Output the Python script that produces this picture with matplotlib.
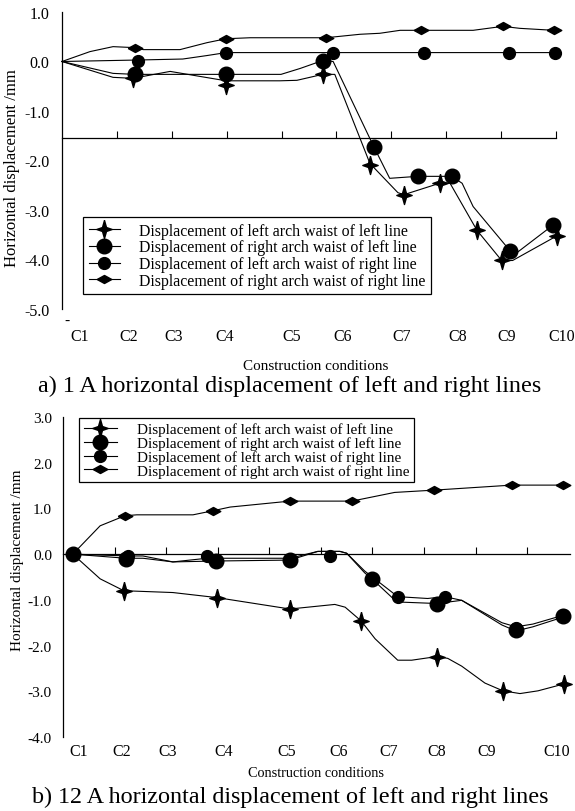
import matplotlib
matplotlib.use("Agg")
import matplotlib.pyplot as plt
from matplotlib.lines import Line2D
from matplotlib.transforms import blended_transform_factory

plt.rcParams["font.family"] = ["Liberation Serif", "DejaVu Serif"]
plt.rcParams["axes.unicode_minus"] = False

W, H = 575, 812

conditions = ["C1", "C2", "C3", "C4", "C5", "C6", "C7", "C8", "C9", "C10"]
legend_labels = [
    "Displacement of left arch waist of left line",
    "Displacement of right arch waist of left line",
    "Displacement of left arch waist of right line",
    "Displacement of right arch waist of right line",
]

# ---- a) 1 A : curves and marker points (x in condition-axis units)
a_label_x = [0.33, 1.22, 2.04, 2.97, 4.19, 5.12, 6.19, 7.21, 8.11, 9.11]

a_left_left_x = [0, 0.93, 1.29, 1.97, 2.99, 3.97, 4.28, 4.75, 4.97, 5.61, 6.12, 6.23,
                 6.88, 7.07, 7.56, 8.01, 8.21, 9.02]
a_left_left_y = [0, -0.32, -0.34, -0.20, -0.39, -0.39, -0.38, -0.26, -0.26, -2.06, -2.65,
                 -2.69, -2.46, -2.46, -3.41, -4.02, -4.02, -3.52]
a_left_left_mx = [1.29, 2.99, 4.75, 5.61, 6.23, 6.88, 7.56, 8.01, 9.02]
a_left_left_my = [-0.34, -0.48, -0.26, -2.10, -2.69, -2.46, -3.41, -4.02, -3.52]

a_right_left_x = [0, 0.93, 1.33, 2.99, 3.99, 4.34, 4.75, 4.94, 5.68, 5.97, 6.48, 7.10,
                  7.29, 7.49, 8.16, 8.29, 8.94]
a_right_left_y = [0, -0.24, -0.26, -0.26, -0.26, -0.14, 0.02, 0.0, -1.72, -2.36, -2.32,
                  -2.32, -2.46, -2.93, -3.82, -3.86, -3.31]
a_right_left_mx = [1.33, 2.99, 4.75, 5.68, 6.48, 7.10, 8.16, 8.94]
a_right_left_my = [-0.26, -0.26, 0.02, -1.72, -2.32, -2.32, -3.82, -3.31]

a_left_right_x = [0, 1.38, 2.20, 2.64, 2.99, 3.42, 8.98]
a_left_right_y = [0, 0.03, 0.05, 0.12, 0.18, 0.18, 0.18]
a_left_right_mx = [1.38, 2.99, 4.94, 6.59, 8.14, 8.98]
a_left_right_my = [0.02, 0.18, 0.18, 0.18, 0.18, 0.18]

a_right_right_x = [0, 0.51, 0.93, 1.33, 1.48, 2.15, 2.64, 2.99, 3.43, 4.81, 5.43, 5.79,
                   6.16, 6.54, 7.49, 8.03, 8.34, 8.96]
a_right_right_y = [0, 0.20, 0.30, 0.28, 0.24, 0.24, 0.38, 0.46, 0.48, 0.48, 0.55, 0.57,
                   0.63, 0.63, 0.63, 0.71, 0.67, 0.63]
a_right_right_mx = [1.33, 2.99, 4.81, 6.54, 8.03, 8.96]
a_right_right_my = [0.28, 0.46, 0.48, 0.63, 0.71, 0.63]

# ---- b) 12 A
b_label_x = [0.31, 1.14, 2.03, 3.12, 4.34, 5.35, 6.32, 7.25, 8.22, 9.57]

b_left_left_x = [0.19, 0.72, 1.18, 2.13, 2.98, 4.40, 5.27, 5.47, 5.78, 6.05, 6.49, 6.76,
                 7.25, 7.46, 7.73, 8.18, 8.53, 8.86, 9.21, 9.71]
b_left_left_y = [0, -0.54, -0.80, -0.84, -0.95, -1.20, -1.10, -1.16, -1.46, -1.85, -2.32,
                 -2.32, -2.24, -2.28, -2.45, -2.82, -2.99, -3.05, -2.99, -2.84]
b_left_left_mx = [1.18, 2.98, 4.40, 5.78, 7.25, 8.53, 9.71]
b_left_left_my = [-0.80, -0.95, -1.20, -1.46, -2.24, -2.99, -2.84]

b_right_left_x = [0.19, 1.22, 1.55, 2.13, 2.97, 4.40, 4.94, 5.37, 5.50, 5.85, 5.99, 6.38,
                  6.57, 7.25, 7.73, 8.51, 8.78, 9.11, 9.69]
b_right_left_y = [0, -0.09, -0.09, -0.17, -0.15, -0.13, 0.06, 0.06, 0.02, -0.41, -0.54,
                  -0.95, -1.05, -1.08, -1.01, -1.55, -1.68, -1.59, -1.38]
b_right_left_mx = [0.19, 1.22, 2.97, 4.40, 5.99, 7.25, 8.78, 9.69]
b_right_left_my = [0, -0.11, -0.15, -0.13, -0.54, -1.08, -1.66, -1.35]

b_left_right_x = [0.19, 1.26, 1.55, 2.13, 2.79, 4.40, 4.94, 5.37, 5.50, 5.85, 6.49, 7.07,
                  7.40, 7.73, 8.51, 8.78, 9.11, 9.69]
b_left_right_y = [0, -0.04, -0.04, -0.17, -0.09, -0.09, 0.06, 0.06, 0.02, -0.37, -0.93,
                  -0.97, -0.93, -1.01, -1.50, -1.59, -1.53, -1.34]
b_left_right_mx = [1.26, 2.79, 5.17, 6.49, 7.40, 8.78, 9.69]
b_left_right_my = [-0.04, -0.04, -0.04, -0.93, -0.93, -1.61, -1.34]

b_right_right_x = [0.19, 0.72, 1.20, 1.43, 2.52, 2.91, 3.24, 4.40, 5.60, 6.43, 7.19,
                   8.70, 9.69]
b_right_right_y = [0, 0.62, 0.84, 0.86, 0.86, 0.95, 1.03, 1.16, 1.16, 1.35, 1.40, 1.51,
                   1.51]
b_right_right_mx = [1.20, 2.91, 4.40, 5.60, 7.19, 8.70, 9.69]
b_right_right_my = [0.84, 0.95, 1.16, 1.16, 1.40, 1.51, 1.51]

# marker shapes
STAR = [(0, 1), (0.22, 0.22), (0.85, 0), (0.22, -0.22), (0, -1), (-0.22, -0.22),
        (-0.85, 0), (-0.22, 0.22), (0, 1)]
DIAMOND = [(-1, 0), (0, 0.55), (1, 0), (0, -0.55), (-1, 0)]
styles = [
    dict(marker=STAR, markersize=13),
    dict(marker="o", markersize=10.5),
    dict(marker="o", markersize=8.5),
    dict(marker=DIAMOND, markersize=10.5),
]


def fx(px):
    return px / W


def fy(py):
    return 1 - py / H


def draw_panel(ax, series, xlim, ylim, yticks, spine_y, label_x, label_py, ypad, ysize):
    ax.set_xlim(*xlim)
    ax.set_ylim(*ylim)
    for (cx, cy, mx, my), st in zip(series, styles):
        ax.plot(cx, cy, color="black", lw=0.8, clip_on=False)
        ax.plot(mx, my, linestyle="none", color="black", clip_on=False, **st)
    ax.spines["top"].set_visible(False)
    ax.spines["right"].set_visible(False)
    ax.spines["bottom"].set_position(("data", spine_y))
    ax.spines["left"].set_linewidth(0.9)
    ax.spines["bottom"].set_linewidth(0.9)
    ax.set_xticks(range(1, 10))
    ax.tick_params(axis="x", direction="in", length=5, width=0.8, labelbottom=False)
    ax.set_yticks(yticks)
    ax.set_yticklabels(["%.1f" % v for v in yticks])
    ax.tick_params(axis="y", length=0, pad=ypad, labelsize=ysize)
    ax.set_yticks([ylim[0], ylim[1]], minor=True)
    ax.tick_params(axis="y", which="minor", direction="in", length=7, width=0.8)
    tr = blended_transform_factory(ax.transData, ax.figure.transFigure)
    for x, lab in zip(label_x, conditions):
        ax.text(x, fy(label_py), lab, transform=tr, ha="center", va="center",
                fontsize=11.5)


fig = plt.figure(figsize=(W / 100, H / 100), dpi=100)

# ---- panel a
ax1 = fig.add_axes([fx(62), fy(310), fx(556 - 62), (310 - 13) / H])
series_a = [
    (a_left_left_x, a_left_left_y, a_left_left_mx, a_left_left_my),
    (a_right_left_x, a_right_left_y, a_right_left_mx, a_right_left_my),
    (a_left_right_x, a_left_right_y, a_left_right_mx, a_left_right_my),
    (a_right_right_x, a_right_right_y, a_right_right_mx, a_right_right_my),
]
draw_panel(ax1, series_a, (0, 9), (-5, 1), [1, 0, -1, -2, -3, -4, -5], -1.55,
           a_label_x, 337, 9, 11.5)
fig.text(fx(67), fy(321), "-", fontsize=11, ha="center", va="center")

handles = [Line2D([], [], color="black", lw=0.8, **st) for st in styles]
leg1 = fig.legend(handles, legend_labels, loc="upper left",
                  bbox_to_anchor=(fx(83), fy(218)), fontsize=11.4, frameon=True,
                  fancybox=False, edgecolor="black", framealpha=1,
                  handlelength=2.0, handletextpad=1.2, labelspacing=0.05,
                  borderpad=0.35, borderaxespad=0)
leg1.get_frame().set_linewidth(0.9)

fig.text(fx(316), fy(367), "Construction conditions", fontsize=10.9,
         ha="center", va="center")
fig.text(fx(12), fy(168), "Horizontal displacement /mm", fontsize=12,
         rotation=90, ha="center", va="center")
fig.text(fx(290), fy(386), "a) 1 A horizontal displacement of left and right lines",
         fontsize=17.4, ha="center", va="center")

# ---- panel b
ax2 = fig.add_axes([fx(63), fy(738), fx(570 - 63), (738 - 418) / H])
series_b = [
    (b_left_left_x, b_left_left_y, b_left_left_mx, b_left_left_my),
    (b_right_left_x, b_right_left_y, b_right_left_mx, b_right_left_my),
    (b_left_right_x, b_left_right_y, b_left_right_mx, b_left_right_my),
    (b_right_right_x, b_right_right_y, b_right_right_mx, b_right_right_my),
]
draw_panel(ax2, series_b, (0, 9.83), (-4, 3), [3, 2, 1, 0, -1, -2, -3, -4], 0,
           b_label_x, 752, 8, 11)

leg2 = fig.legend(handles, legend_labels, loc="upper left",
                  bbox_to_anchor=(fx(79), fy(419)), fontsize=10.9, frameon=True,
                  fancybox=False, edgecolor="black", framealpha=1,
                  handlelength=2.2, handletextpad=1.3, labelspacing=0.0,
                  borderpad=0.3, borderaxespad=0)
leg2.get_frame().set_linewidth(0.9)

fig.text(fx(316), fy(774), "Construction conditions", fontsize=10.3,
         ha="center", va="center")
fig.text(fx(18), fy(560), "Horizontal displacement /mm", fontsize=11,
         rotation=90, ha="center", va="center")
fig.text(fx(290), fy(797), "b) 12 A horizontal displacement of left and right lines",
         fontsize=17.4, ha="center", va="center")

fig.savefig("out.png", dpi=100)
